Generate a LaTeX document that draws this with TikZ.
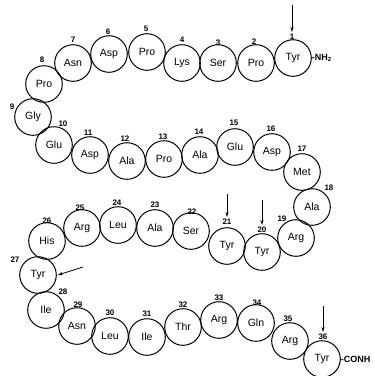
\documentclass[tikz,border=0pt]{standalone}
\usepackage{fontspec}
\setmainfont{Liberation Sans}
\usetikzlibrary{arrows.meta}
\begin{document}
\begin{tikzpicture}[x=1pt,y=-1pt,
  res/.style={circle,draw,line width=1pt,minimum size=36.6pt,inner sep=0pt,font=\fontsize{10.5}{10.5}\selectfont},
  num/.style={inner sep=0pt,font=\bfseries\fontsize{8}{8}\selectfont},
  term/.style={inner sep=0pt,anchor=west,font=\bfseries\fontsize{9}{9}\selectfont},
  site/.style={line width=0.8pt,-{Stealth[length=5pt,width=3.2pt]}}]
\useasboundingbox (0,0) rectangle (375,376);
% residues of the chain, N-terminus at top right
\foreach \i/\x/\y/\aa in {
  1/293/58/Tyr, 2/256/63/Pro, 3/218/63/Ser, 4/182/63/Lys, 5/147/52/Pro,
  6/109/54/Asp, 7/73/63/Asn, 8/44/84/Pro, 9/33/117/Gly, 10/54/145/Glu,
  11/90/155/Asp, 12/127/161/Ala, 13/164/159/Pro, 14/200/155/Ala, 15/235/147/Glu,
  16/272/152/Asp, 17/302/172/Met, 18/312/207/Ala, 19/296/238/Arg, 20/262/252/Tyr,
  21/227/246/Tyr, 22/191/231/Ser, 23/155/228/Ala, 24/118/225/Leu, 25/82/228/Arg,
  26/47/241/His, 27/38/275/Tyr, 28/46/310/Ile, 29/77/326/Asn, 30/110/336/Leu,
  31/147/337/Ile, 32/183/327/Thr, 33/219/320/Arg, 34/256/323/Gln, 35/290/341/Arg,
  36/322/359/Tyr}
  \node[res] (r\i) at (\x,\y) {\aa};
% residue numbers
\foreach \i/\x/\y in {
  1/292/37, 2/254/42, 3/218/43, 4/182/40, 5/146/29, 6/108/32, 7/73/40,
  8/42/60, 9/12/107, 10/63/124, 11/88/133, 12/125/139, 13/163/137, 14/199/132,
  15/234/123, 16/271/129, 17/302/149, 18/329/188, 19/282/219, 20/262/230,
  21/227/222, 22/192/212, 23/155/205, 24/117/203, 25/80/208, 26/47/221,
  27/15/260, 28/63/292, 29/78/305, 30/110/313, 31/147/314, 32/183/305,
  33/219/298, 34/257/303, 35/288/319, 36/323/337}
  \node[num] (l\i) at (\x,\y) {\i};
% chain ends
\node[term] (nterm) at (r1.east) {-NH\textsubscript{2}};
\node[term] (cterm) at (r36.east) {-CONH};
% marked tyrosines
\coordinate (a1) at (292,5);
\coordinate (a21) at (227,194);
\coordinate (a20) at (262,200);
\coordinate (a36) at (323,306);
\coordinate (a27) at (83,267);
\draw[site] (a1) -- ([yshift=2pt]l1.north);
\draw[site] (a21) -- ([yshift=2pt]l21.north);
\draw[site] (a20) -- ([yshift=2pt]l20.north);
\draw[site] (a36) -- ([yshift=2pt]l36.north);
\draw[site] (a27) -- ([xshift=1pt]r27.east);
\end{tikzpicture}
\end{document}
